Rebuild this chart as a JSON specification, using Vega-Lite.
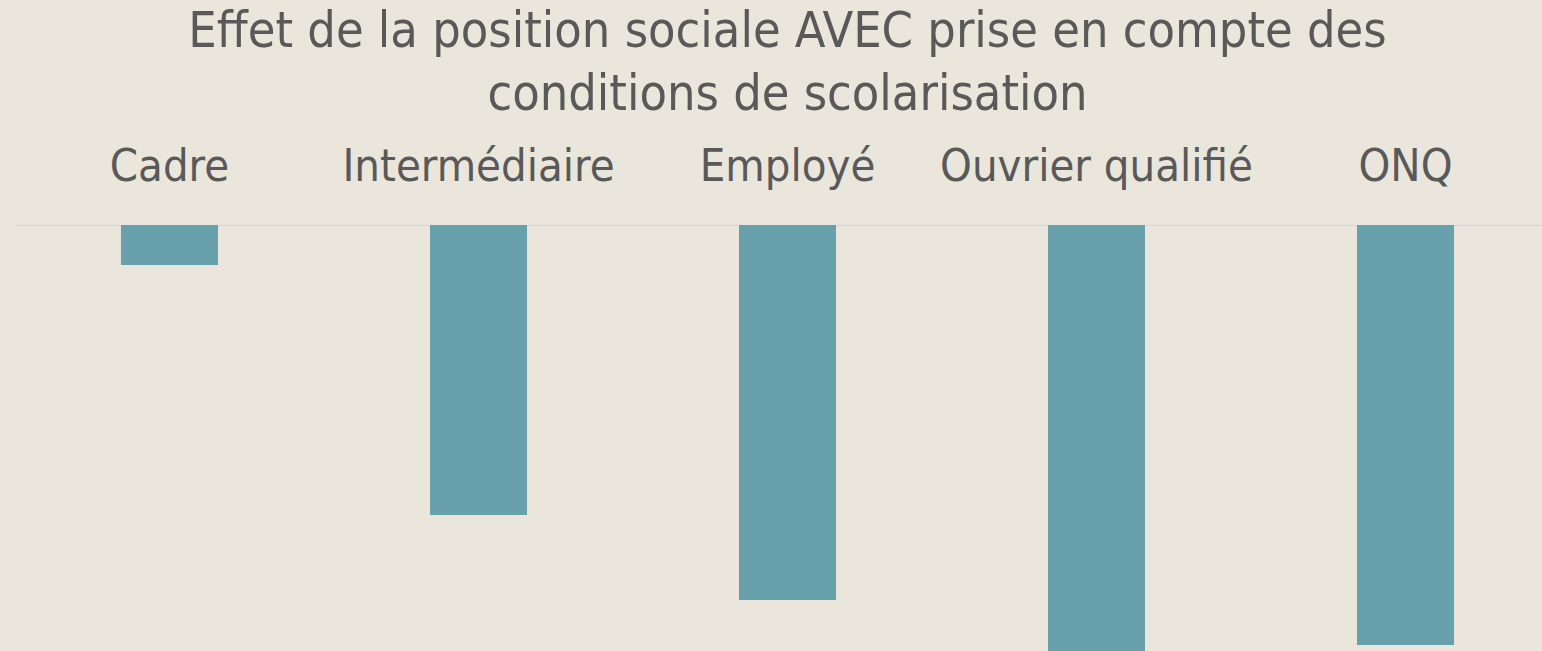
{
  "$schema": "https://vega.github.io/schema/vega-lite/v6.json",
  "autosize": {"type": "none"},
  "padding": {"left": 15, "top": 225, "right": 0, "bottom": 0},
  "width": 1545,
  "height": 426,
  "background": "#EAE6DC",
  "title": {
    "text": ["Effet de la position sociale AVEC prise en compte des", "conditions de scolarisation"],
    "font": "DejaVu Sans Condensed, Roboto, sans-serif",
    "fontSize": 50,
    "fontWeight": "normal",
    "color": "#595959",
    "lineHeight": 63,
    "anchor": "middle",
    "offset": 24
  },
  "data": {
    "values": [
      {"categorie": "Cadre", "effet": -0.040},
      {"categorie": "Intermédiaire", "effet": -0.290},
      {"categorie": "Employé", "effet": -0.375},
      {"categorie": "Ouvrier qualifié", "effet": -0.450},
      {"categorie": "ONQ", "effet": -0.420}
    ]
  },
  "mark": {"type": "bar", "color": "#68A1AB", "clip": true},
  "encoding": {
    "x": {
      "field": "categorie",
      "type": "nominal",
      "sort": null,
      "scale": {"paddingInner": 0.686, "paddingOuter": 0.343},
      "axis": {
        "orient": "top",
        "title": null,
        "labelAngle": 0,
        "labelFont": "DejaVu Sans Condensed, Roboto, sans-serif",
        "labelFontSize": 45,
        "labelColor": "#595959",
        "labelPadding": 36,
        "labelLimit": 0,
        "ticks": false,
        "domainColor": "#D9D9D9",
        "domainWidth": 1.5,
        "grid": false
      }
    },
    "y": {
      "field": "effet",
      "type": "quantitative",
      "scale": {"domain": [-0.426, 0], "nice": false, "zero": false},
      "axis": null
    }
  },
  "config": {"view": {"stroke": null}}
}
